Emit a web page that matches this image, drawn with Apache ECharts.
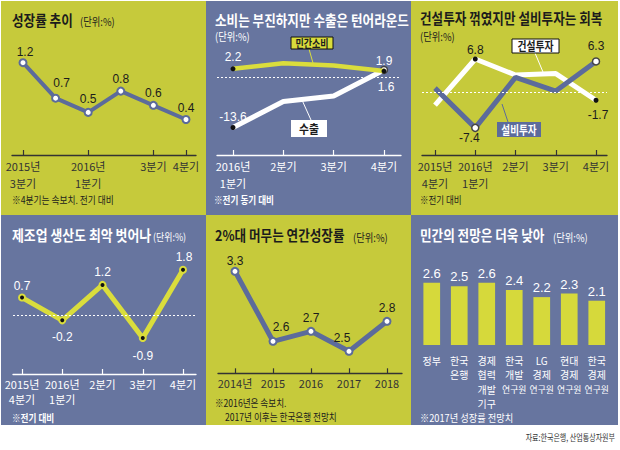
<!DOCTYPE html>
<html><head><meta charset="utf-8">
<script src="https://cdn.jsdelivr.net/npm/echarts@6/dist/echarts.min.js"></script>
<style>html,body{margin:0;padding:0;background:#fff}#c{width:620px;height:450px}</style>
</head><body><div id="c"></div><script>
// ---------- data ----------
const P1_CATS = ['2015년\n3분기','4분기','2016년\n1분기','2분기','3분기','4분기'];
const P1_SHOWN = [0,2,4,5];
const P1_GROWTH = [1.2,0.7,0.5,0.8,0.6,0.4];

const P2_CATS = ['2016년\n1분기','2분기','3분기','4분기'];
const P2_CONSUMPTION = [2.2,3.7,3.1,1.6];
const P2_EXPORT = [-13.6,-6.6,-5.1,1.9];

const P3_CATS = ['2015년\n4분기','2016년\n1분기','2분기','3분기','4분기'];
const P3_CONSTRUCTION = [-2.7,6.8,3.5,3.8,-1.7];
const P3_EQUIPMENT = [0.8,-7.4,3.0,0.2,6.3];

const P4_CATS = ['2015년\n4분기','2016년\n1분기','2분기','3분기','4분기'];
const P4_MANUFACTURING = [0.7,-0.2,1.2,-0.9,1.8];

const P5_CATS = ['2014년','2015','2016','2017','2018'];
const P5_ANNUAL = [3.3,2.6,2.7,2.5,2.8];

const P6_CATS = ['정부','한국\n은행','경제\n협력\n개발\n기구','한국\n개발\n연구원','LG\n경제\n연구원','현대\n경제\n연구원','한국\n경제\n연구원'];
const P6_FORECAST = [2.6,2.5,2.6,2.4,2.2,2.3,2.1];

// ---------- style ----------
const YG = '#c6ca3b', SB = '#67759f', LINE_Y = '#dadd3c', LINE_B = '#5c6b9b', BAR = '#d6d93b';
const DARK = '#1c1c1c', WHITE = '#ffffff';
const FONT = "'Noto Sans CJK KR', sans-serif";
const NUMFONT = "'Liberation Sans Narrow','Liberation Sans','Noto Sans CJK KR',sans-serif";

const grids = [
  {left:12, top:41.4, width:184, height:113.6},
  {left:217, top:54.7, width:184, height:100.3},
  {left:422, top:43.5, width:185, height:111.5},
  {left:13, top:252, width:183, height:122},
  {left:218, top:251.3, width:184, height:122},
  {left:418, top:250.3, width:192.5, height:94.7}
].map(g => Object.assign({containLabel:false, outerBoundsMode:'none'}, g));

function xVal(gi, cats, shown, min, max, color, lh) {
  return {type:'value', gridIndex:gi, min, max, splitLine:{show:false},
    axisLine:{show:true, onZero:false, lineStyle:{color, width:1.3}},
    axisTick:{show:true, inside:true, length:5, customValues:shown, lineStyle:{color, width:1.2}},
    axisLabel:{show:true, customValues:shown, formatter:v => cats[Math.round(v)], color,
      fontSize:11, lineHeight:lh, margin:2, fontFamily:FONT}};
}
function yVal(gi, min, max) {
  return {type:'value', gridIndex:gi, min, max, show:false, splitLine:{show:false}};
}
const idx = a => a.map((_, i) => i);

const xAxes = [
  xVal(0, P1_CATS, P1_SHOWN, -0.337, 5.307, '#333', 17),
  xVal(1, P2_CATS, idx(P2_CATS), -0.318, 3.338, WHITE, 17),
  xVal(2, P3_CATS, idx(P3_CATS), -0.323, 4.273, '#333', 17),
  xVal(3, P4_CATS, idx(P4_CATS), -0.224, 4.323, WHITE, 15),
  xVal(4, P5_CATS, idx(P5_CATS), -0.447, 4.395, '#333', 15),
  {type:'category', gridIndex:5, data:P6_CATS, boundaryGap:true,
    axisLine:{show:false}, axisTick:{show:false},
    axisLabel:{interval:0, color:WHITE, fontSize:10, lineHeight:14.5, margin:8, fontFamily:FONT,
      formatter:v => v.replace('연구원','{s|연구원}'),
      rich:{s:{fontSize:8.8, color:WHITE, lineHeight:14.5, fontFamily:FONT}}}}
];
const yAxes = [yVal(0,-0.1,1.5), yVal(1,-21,6), yVal(2,-13,10), yVal(3,-2.32,2.5), yVal(4,2.28,3.5), yVal(5,0.87,3.5)];

const MK = {
  hollowBlue: {symbol:'circle', symbolSize:7, itemStyle:{color:WHITE, borderColor:LINE_B, borderWidth:2}},
  black: {symbol:'circle', symbolSize:5, itemStyle:{color:'#111', borderWidth:0}},
  hollowGray: {symbol:'circle', symbolSize:7, itemStyle:{color:WHITE, borderColor:'#444', borderWidth:1.5}},
  blackYellow: {symbol:'circle', symbolSize:6, itemStyle:{color:'#111', borderColor:LINE_Y, borderWidth:2}},
  none: {symbol:'none'}
};

function lineSeries(gi, vals, cfg) {
  const s = {
    type:'line', xAxisIndex:gi, yAxisIndex:gi, z:cfg.z || 3, animation:false, silent:true,
    lineStyle:{color:cfg.color, width:cfg.width}, itemStyle:{color:cfg.color},
    label:{position:'inside', color:cfg.labelColor, fontSize:12, fontFamily:NUMFONT,
      formatter:p => p.value[1].toFixed(1)},
    data: vals.map((v, i) => {
      const it = Object.assign({value:[i, v]}, JSON.parse(JSON.stringify(cfg.markers[i] || MK.none)));
      const off = cfg.labelOffsets[i];
      it.label = off ? {show:true, offset:off} : {show:false};
      return it;
    })
  };
  if (cfg.zeroColor) {
    s.markLine = {silent:true, symbol:'none', label:{show:false}, animation:false,
      lineStyle:{type:[2,2], color:cfg.zeroColor, width:1}, data:[{yAxis:0}]};
  }
  return s;
}
const all = (n, m) => Array.from({length:n}, () => m);

const series = [
  lineSeries(0, P1_GROWTH, {color:LINE_B, width:4, labelColor:DARK, markers:all(6, MK.hollowBlue),
    labelOffsets:[[2,-11],[6,-15],[0,-13],[0,-12],[0,-12],[0,-12]]}),
  lineSeries(1, P2_EXPORT, {color:WHITE, width:5, labelColor:WHITE, zeroColor:WHITE, z:3,
    markers:[MK.black, null, null, MK.hollowGray], labelOffsets:[[0,-11], null, null, [0,-9]]}),
  lineSeries(1, P2_CONSUMPTION, {color:LINE_Y, width:4.5, labelColor:WHITE, z:4,
    markers:[MK.black, null, null, MK.black], labelOffsets:[[0,-12], null, null, [2,16]]}),
  lineSeries(2, P3_CONSTRUCTION, {color:WHITE, width:5, labelColor:DARK, zeroColor:WHITE, z:3,
    markers:[null, MK.black, null, null, MK.black], labelOffsets:[null,[0,-9],null,null,[2,15]]}),
  lineSeries(2, P3_EQUIPMENT, {color:LINE_B, width:5, labelColor:DARK, z:4,
    markers:[null, MK.hollowGray, null, null, MK.hollowGray], labelOffsets:[null,[-6,10],null,null,[0,-15]]}),
  lineSeries(3, P4_MANUFACTURING, {color:LINE_Y, width:5, labelColor:WHITE, zeroColor:WHITE,
    markers:all(5, MK.blackYellow), labelOffsets:[[0,-12],[0,17],[0,-13],[0,18],[1,-13]]}),
  lineSeries(4, P5_ANNUAL, {color:LINE_B, width:5, labelColor:DARK, markers:all(5, MK.hollowBlue),
    labelOffsets:[[0,-10],[8,-14],[0,-13],[-7,-13],[0,-13]]}),
  {type:'bar', xAxisIndex:5, yAxisIndex:5, data:P6_FORECAST, barWidth:16.7, animation:false, silent:true,
    itemStyle:{color:BAR},
    label:{show:true, position:'top', distance:3, color:WHITE, fontSize:13, fontFamily:NUMFONT,
      formatter:p => p.value.toFixed(1)}}
];

// ---------- graphics ----------
function R(x, y, w, h, fill, z, stroke) {
  return {type:'rect', silent:true, z:z, shape:{x, y, width:w, height:h},
    style:{fill, stroke:stroke || null, lineWidth:stroke ? 1 : 0}};
}
function L(x1, y1, x2, y2, color) {
  return {type:'line', silent:true, z:90, shape:{x1, y1, x2, y2}, style:{stroke:color, lineWidth:1}};
}
function T(x, y, text, o) {
  o = o || {};
  const a = o.a || 'left';
  return {type:'text', x, y, scaleX:o.sx || 1, z:100, silent:true,
    style:{text, fill:o.c || DARK, fontSize:o.s || 11, fontWeight:o.w || 'normal', fontFamily:FONT,
      align:a, verticalAlign:'middle', textAlign:a, textVerticalAlign:'middle'}};
}
const TS = {s:15, w:'bold', sx:0.84};
const graphic = [
  R(1, 1, 205, 214, YG, -10), R(206, 1, 205, 214, SB, -10), R(411, 1, 207, 214, YG, -10),
  R(1, 215, 205, 210, SB, -10), R(206, 215, 205, 210, YG, -10), R(411, 215, 207, 210, SB, -10),
  // titles
  T(12, 20, '성장률 추이', TS),
  T(80, 21, '(단위:%)', {s:11, sx:0.85}),
  T(215, 20, '소비는 부진하지만 수출은 턴어라운드', Object.assign({c:WHITE}, TS)),
  T(215, 36, '(단위:%)', {s:11, sx:0.85, c:WHITE}),
  T(420, 18, '건설투자 꺾였지만 설비투자는 회복', TS),
  T(420, 36, '(단위:%)', {s:11, sx:0.85}),
  T(12, 235, '제조업 생산도 최악 벗어나', Object.assign({c:WHITE}, TS, {sx:0.86})),
  T(153, 237, '(단위:%)', {s:10.5, sx:0.85, c:WHITE}),
  T(215, 235, '2%대 머무는 연간성장률', TS),
  T(353, 237, '(단위:%)', {s:11, sx:0.85}),
  T(420, 235, '민간의 전망은 더욱 낮아', Object.assign({c:WHITE}, TS)),
  T(553, 237, '(단위:%)', {s:11, sx:0.85, c:WHITE}),
  // footnotes
  T(12, 200, '※4분기는 속보치. 전기 대비', {s:10, sx:0.87}),
  T(214, 200, '※전기 동기 대비', {s:10.5, w:'bold', sx:0.82, c:WHITE}),
  T(420, 200, '※전기 대비', {s:10, sx:0.85}),
  T(12, 418, '※전기 대비', {s:10.5, w:'bold', sx:0.82, c:WHITE}),
  T(215, 403, '※2016년은 속보치.', {s:10, sx:0.86}),
  T(225, 417, '2017년 이후는 한국은행 전망치', {s:10, sx:0.86}),
  T(420, 418, '※2017년 성장률 전망치', {s:10.5, sx:0.88, c:WHITE}),
  T(615, 437, '자료:한국은행, 산업통상자원부', {s:9, sx:0.78, a:'right', c:'#333'}),
  // legend boxes
  L(309, 49, 313, 63, LINE_Y),
  R(291, 37, 42, 12, LINE_Y, 95, '#111'),
  T(312, 43, '민간소비', {s:11, w:'bold', sx:0.82, a:'center'}),
  L(311, 120, 302, 100, WHITE),
  R(291, 120, 36, 17, WHITE, 95),
  T(309, 128.5, '수출', {s:12, w:'bold', sx:0.9, a:'center'}),
  L(535, 53, 543, 72, WHITE),
  R(512, 39, 47, 14, WHITE, 95, '#111'),
  T(535.5, 46, '건설투자', {s:12, w:'bold', sx:0.82, a:'center'}),
  L(508, 122, 502, 104, LINE_B),
  R(497, 122, 44, 15, LINE_B, 95),
  T(519, 129.5, '설비투자', {s:12, w:'bold', sx:0.8, a:'center', c:WHITE})
];

const chart = echarts.init(document.getElementById('c'), null, {renderer:'svg', width:620, height:450});
chart.setOption({animation:false, backgroundColor:'#ffffff', grid:grids, xAxis:xAxes, yAxis:yAxes, series, graphic});
</script></body></html>
